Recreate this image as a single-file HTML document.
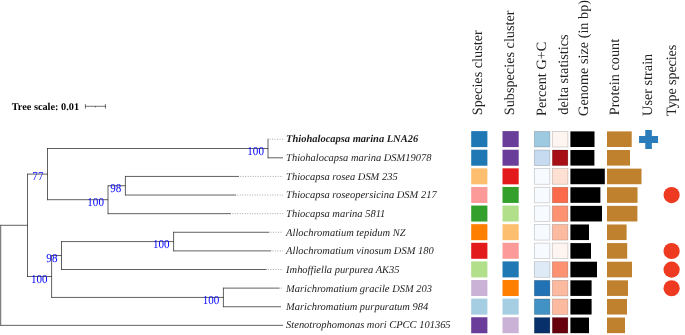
<!DOCTYPE html>
<html><head><meta charset="utf-8"><title>Tree</title>
<style>html,body{margin:0;padding:0;background:#fff}svg{display:block}svg{will-change:transform}text{text-rendering:geometricPrecision}.lf{font-family:"Liberation Serif",serif;font-style:italic;font-size:10.47px;fill:#1c1c1c}.bs{font-family:"Liberation Serif",serif;font-size:12px;fill:#0000ff}.hd{font-family:"Liberation Serif",serif;font-size:14.25px;fill:#222}.sc{font-family:"Liberation Serif",serif;font-weight:bold;font-size:10.3px;fill:#000}</style></head><body>
<svg width="685" height="335" viewBox="0 0 685 335">
<rect width="685" height="335" fill="#fff"/>
<g stroke="#000" stroke-opacity="0.62" stroke-width="1" fill="none">
<line stroke-linecap="square" x1="0.70" y1="225.29" x2="0.70" y2="325.35"/><line x1="0.70" y1="225.29" x2="27.50" y2="225.29"/><line stroke-linecap="square" x1="27.50" y1="174.10" x2="27.50" y2="276.49"/><line x1="27.50" y1="174.10" x2="47.50" y2="174.10"/><line stroke-linecap="square" x1="47.50" y1="148.51" x2="47.50" y2="199.70"/><line x1="47.50" y1="148.51" x2="268.00" y2="148.51"/><line stroke-linecap="square" x1="268.00" y1="139.20" x2="268.00" y2="157.81"/><line x1="47.50" y1="199.70" x2="108.00" y2="199.70"/><line stroke-linecap="square" x1="108.00" y1="185.74" x2="108.00" y2="213.66"/><line x1="108.00" y1="185.74" x2="125.40" y2="185.74"/><line stroke-linecap="square" x1="125.40" y1="176.43" x2="125.40" y2="195.04"/><line x1="27.50" y1="276.49" x2="51.60" y2="276.49"/><line stroke-linecap="square" x1="51.60" y1="255.54" x2="51.60" y2="297.43"/><line x1="51.60" y1="255.54" x2="61.50" y2="255.54"/><line stroke-linecap="square" x1="61.50" y1="241.58" x2="61.50" y2="269.50"/><line x1="61.50" y1="241.58" x2="173.60" y2="241.58"/><line stroke-linecap="square" x1="173.60" y1="232.27" x2="173.60" y2="250.89"/><line x1="51.60" y1="297.43" x2="223.40" y2="297.43"/><line stroke-linecap="square" x1="223.40" y1="288.12" x2="223.40" y2="306.74"/><line x1="268.00" y1="157.81" x2="283.00" y2="157.81"/><line x1="125.40" y1="176.43" x2="239.00" y2="176.43"/><line x1="125.40" y1="195.04" x2="236.00" y2="195.04"/><line x1="108.00" y1="213.66" x2="231.00" y2="213.66"/><line x1="173.60" y1="232.27" x2="269.30" y2="232.27"/><line x1="173.60" y1="250.89" x2="271.20" y2="250.89"/><line x1="61.50" y1="269.50" x2="266.60" y2="269.50"/><line x1="223.40" y1="288.12" x2="279.60" y2="288.12"/><line x1="223.40" y1="306.74" x2="281.00" y2="306.74"/><line x1="0.70" y1="325.35" x2="283.00" y2="325.35"/></g>
<g stroke="#000" stroke-opacity="0.35" stroke-width="1" stroke-dasharray="1 1.5" fill="none">
<line x1="269.50" y1="139.20" x2="283.00" y2="139.20"/><line x1="240.20" y1="176.43" x2="283.00" y2="176.43"/><line x1="237.20" y1="195.04" x2="283.00" y2="195.04"/><line x1="232.20" y1="213.66" x2="283.00" y2="213.66"/><line x1="270.50" y1="232.27" x2="283.00" y2="232.27"/><line x1="272.40" y1="250.89" x2="283.00" y2="250.89"/><line x1="267.80" y1="269.50" x2="283.00" y2="269.50"/><line x1="280.80" y1="288.12" x2="283.00" y2="288.12"/></g>
<text class="bs" text-anchor="end" transform="translate(43.40,180.30) scale(0.92,1)">77</text><text class="bs" text-anchor="end" transform="translate(263.90,154.71) scale(0.92,1)">100</text><text class="bs" text-anchor="end" transform="translate(103.90,205.90) scale(0.92,1)">100</text><text class="bs" text-anchor="end" transform="translate(121.30,191.94) scale(0.92,1)">98</text><text class="bs" text-anchor="end" transform="translate(47.50,282.69) scale(0.92,1)">100</text><text class="bs" text-anchor="end" transform="translate(57.40,261.74) scale(0.92,1)">98</text><text class="bs" text-anchor="end" transform="translate(169.50,247.78) scale(0.92,1)">100</text><text class="bs" text-anchor="end" transform="translate(219.30,303.63) scale(0.92,1)">100</text>
<text class="lf" font-weight="bold" x="286.1" y="142.20">Thiohalocapsa marina LNA26</text>
<text class="lf" x="286.1" y="161.13">Thiohalocapsa marina DSM19078</text>
<text class="lf" x="286.1" y="179.76">Thiocapsa rosea DSM 235</text>
<text class="lf" x="286.1" y="198.39">Thiocapsa roseopersicina DSM 217</text>
<text class="lf" x="286.1" y="217.02">Thiocapsa marina 5811</text>
<text class="lf" x="286.1" y="235.65">Allochromatium tepidum NZ</text>
<text class="lf" x="286.1" y="254.28">Allochromatium vinosum DSM 180</text>
<text class="lf" x="286.1" y="272.91">Imhoffiella purpurea AK35</text>
<text class="lf" x="286.1" y="291.54">Marichromatium gracile DSM 203</text>
<text class="lf" x="286.1" y="310.17">Marichromatium purpuratum 984</text>
<text class="lf" x="286.1" y="328.20">Stenotrophomonas mori CPCC 101365</text>
<text class="sc" x="11.7" y="109.6">Tree scale: 0.01</text>
<g stroke="#000" stroke-opacity="0.55" stroke-width="1" fill="none"><line x1="85" y1="106.3" x2="105.8" y2="106.3"/><line x1="85.4" y1="104.1" x2="85.4" y2="108.6"/><line x1="105.4" y1="104.1" x2="105.4" y2="108.6"/><line x1="95.4" y1="106.3" x2="95.4" y2="107.4"/></g>
<rect x="471.2" y="131.10" width="16.2" height="16.0" fill="#1f78b4"/><rect x="502.5" y="131.10" width="16.2" height="16.0" fill="#6a3d9a"/><rect x="534.3" y="131.40" width="15.6" height="15.6" fill="#9ecae1" stroke="#000" stroke-opacity="0.22" stroke-width="0.7"/><rect x="552.3" y="131.40" width="15.6" height="15.6" fill="#fff5f0" stroke="#000" stroke-opacity="0.22" stroke-width="0.7"/><rect x="570.4" y="131.40" width="24.10" height="15.6" fill="#000"/><rect x="607" y="131.40" width="24.70" height="15.6" fill="#bf812d"/>
<rect x="471.2" y="149.72" width="16.2" height="16.0" fill="#1f78b4"/><rect x="502.5" y="149.72" width="16.2" height="16.0" fill="#6a3d9a"/><rect x="534.3" y="150.01" width="15.6" height="15.6" fill="#c6dbef" stroke="#000" stroke-opacity="0.22" stroke-width="0.7"/><rect x="552.3" y="150.01" width="15.6" height="15.6" fill="#a50f15" stroke="#000" stroke-opacity="0.22" stroke-width="0.7"/><rect x="570.4" y="150.01" width="24.00" height="15.6" fill="#000"/><rect x="607" y="150.01" width="23.00" height="15.6" fill="#bf812d"/>
<rect x="471.2" y="168.33" width="16.2" height="16.0" fill="#fdbf6f"/><rect x="502.5" y="168.33" width="16.2" height="16.0" fill="#e31a1c"/><rect x="534.3" y="168.63" width="15.6" height="15.6" fill="#f7fbff" stroke="#000" stroke-opacity="0.22" stroke-width="0.7"/><rect x="552.3" y="168.63" width="15.6" height="15.6" fill="#fee0d2" stroke="#000" stroke-opacity="0.22" stroke-width="0.7"/><rect x="570.4" y="168.63" width="34.40" height="15.6" fill="#000"/><rect x="607" y="168.63" width="34.50" height="15.6" fill="#bf812d"/>
<rect x="471.2" y="186.94" width="16.2" height="16.0" fill="#fb9a99"/><rect x="502.5" y="186.94" width="16.2" height="16.0" fill="#33a02c"/><rect x="534.3" y="187.24" width="15.6" height="15.6" fill="#f7fbff" stroke="#000" stroke-opacity="0.22" stroke-width="0.7"/><rect x="552.3" y="187.24" width="15.6" height="15.6" fill="#fb6a4a" stroke="#000" stroke-opacity="0.22" stroke-width="0.7"/><rect x="570.4" y="187.24" width="30.00" height="15.6" fill="#000"/><rect x="607" y="187.24" width="30.50" height="15.6" fill="#bf812d"/>
<rect x="471.2" y="205.56" width="16.2" height="16.0" fill="#33a02c"/><rect x="502.5" y="205.56" width="16.2" height="16.0" fill="#b2df8a"/><rect x="534.3" y="205.86" width="15.6" height="15.6" fill="#f7fbff" stroke="#000" stroke-opacity="0.22" stroke-width="0.7"/><rect x="552.3" y="205.86" width="15.6" height="15.6" fill="#fc9272" stroke="#000" stroke-opacity="0.22" stroke-width="0.7"/><rect x="570.4" y="205.86" width="31.60" height="15.6" fill="#000"/><rect x="607" y="205.86" width="30.40" height="15.6" fill="#bf812d"/>
<rect x="471.2" y="224.17" width="16.2" height="16.0" fill="#ff7f00"/><rect x="502.5" y="224.17" width="16.2" height="16.0" fill="#fdbf6f"/><rect x="534.3" y="224.47" width="15.6" height="15.6" fill="#f7fbff" stroke="#000" stroke-opacity="0.22" stroke-width="0.7"/><rect x="552.3" y="224.47" width="15.6" height="15.6" fill="#fcbba1" stroke="#000" stroke-opacity="0.22" stroke-width="0.7"/><rect x="570.4" y="224.47" width="18.60" height="15.6" fill="#000"/><rect x="607" y="224.47" width="19.60" height="15.6" fill="#bf812d"/>
<rect x="471.2" y="242.79" width="16.2" height="16.0" fill="#e31a1c"/><rect x="502.5" y="242.79" width="16.2" height="16.0" fill="#fb9a99"/><rect x="534.3" y="243.09" width="15.6" height="15.6" fill="#f7fbff" stroke="#000" stroke-opacity="0.22" stroke-width="0.7"/><rect x="552.3" y="243.09" width="15.6" height="15.6" fill="#fff5f0" stroke="#000" stroke-opacity="0.22" stroke-width="0.7"/><rect x="570.4" y="243.09" width="20.60" height="15.6" fill="#000"/><rect x="607" y="243.09" width="20.20" height="15.6" fill="#bf812d"/>
<rect x="471.2" y="261.40" width="16.2" height="16.0" fill="#b2df8a"/><rect x="502.5" y="261.40" width="16.2" height="16.0" fill="#1f78b4"/><rect x="534.3" y="261.70" width="15.6" height="15.6" fill="#deebf7" stroke="#000" stroke-opacity="0.22" stroke-width="0.7"/><rect x="552.3" y="261.70" width="15.6" height="15.6" fill="#fc9272" stroke="#000" stroke-opacity="0.22" stroke-width="0.7"/><rect x="570.4" y="261.70" width="26.60" height="15.6" fill="#000"/><rect x="607" y="261.70" width="25.00" height="15.6" fill="#bf812d"/>
<rect x="471.2" y="280.02" width="16.2" height="16.0" fill="#cab2d6"/><rect x="502.5" y="280.02" width="16.2" height="16.0" fill="#ff7f00"/><rect x="534.3" y="280.32" width="15.6" height="15.6" fill="#2171b5" stroke="#000" stroke-opacity="0.22" stroke-width="0.7"/><rect x="552.3" y="280.32" width="15.6" height="15.6" fill="#fcbba1" stroke="#000" stroke-opacity="0.22" stroke-width="0.7"/><rect x="570.4" y="280.32" width="21.20" height="15.6" fill="#000"/><rect x="607" y="280.32" width="21.00" height="15.6" fill="#bf812d"/>
<rect x="471.2" y="298.63" width="16.2" height="16.0" fill="#a6cee3"/><rect x="502.5" y="298.63" width="16.2" height="16.0" fill="#a6cee3"/><rect x="534.3" y="298.94" width="15.6" height="15.6" fill="#4292c6" stroke="#000" stroke-opacity="0.22" stroke-width="0.7"/><rect x="552.3" y="298.94" width="15.6" height="15.6" fill="#fcbba1" stroke="#000" stroke-opacity="0.22" stroke-width="0.7"/><rect x="570.4" y="298.94" width="21.20" height="15.6" fill="#000"/><rect x="607" y="298.94" width="20.00" height="15.6" fill="#bf812d"/>
<rect x="471.2" y="317.25" width="16.2" height="16.0" fill="#6a3d9a"/><rect x="502.5" y="317.25" width="16.2" height="16.0" fill="#cab2d6"/><rect x="534.3" y="317.55" width="15.6" height="15.6" fill="#08306b" stroke="#000" stroke-opacity="0.22" stroke-width="0.7"/><rect x="552.3" y="317.55" width="15.6" height="15.6" fill="#67000d" stroke="#000" stroke-opacity="0.22" stroke-width="0.7"/><rect x="570.4" y="317.55" width="18.60" height="15.6" fill="#000"/><rect x="607" y="317.55" width="18.00" height="15.6" fill="#bf812d"/>
<path fill="#2b7cba" d="M645.25 129.95h6.6v6.05h6.2v6.9h-6.2v6.05h-6.6v-6.05h-6.2v-6.9h6.2z"/>
<circle cx="671.6" cy="195.09" r="8.1" fill="#ee3a20"/><circle cx="671.6" cy="250.98" r="8.1" fill="#ee3a20"/><circle cx="671.6" cy="269.61" r="8.1" fill="#ee3a20"/><circle cx="671.6" cy="288.24" r="8.1" fill="#ee3a20"/>
<text class="hd" transform="translate(482,115.3) rotate(-90)">Species cluster</text>
<text class="hd" transform="translate(514,115.3) rotate(-90)">Subspecies cluster</text>
<text class="hd" transform="translate(546.4,115.9) rotate(-90)">Percent G+C</text>
<text class="hd" transform="translate(567.6,114.7) rotate(-90)">delta statistics</text>
<text class="hd" transform="translate(587.6,115.9) rotate(-90)">Genome size (in bp)</text>
<text class="hd" transform="translate(619.4,115.3) rotate(-90)">Protein count</text>
<text class="hd" transform="translate(652,115.9) rotate(-90)">User strain</text>
<text class="hd" letter-spacing="-0.17" transform="translate(676,115.9) rotate(-90)">Type species</text>
</svg>
</body></html>
